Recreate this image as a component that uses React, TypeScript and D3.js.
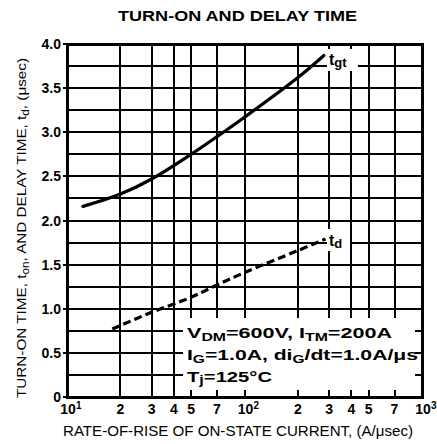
import React from 'react';
import * as d3 from 'd3';

const W = 437;
const H = 444;
const PLOT = { left: 67, right: 422, top: 44, bottom: 397 };

const xTickValues = [10, 20, 30, 40, 50, 70, 100, 200, 300, 400, 500, 700, 1000];
const xTickMain = ['10', '2', '3', '4', '5', '7', '10', '2', '3', '4', '5', '7', '10'];
const xTickSup = ['1', '', '', '', '', '', '2', '', '', '', '', '', '3'];
const yTickValues = [0, 0.5, 1, 1.5, 2, 2.5, 3, 3.5, 4];
const yTickLabels = ['0', '0.5', '1.0', '1.5', '2.0', '2.5', '3.0', '3.5', '4.0'];
const xGridValues = [20, 30, 40, 50, 70, 100, 200, 300, 400, 500, 700];
const yGridValues = [0.25, 0.5, 0.75, 1, 1.25, 1.5, 1.75, 2, 2.25, 2.5, 2.75, 3, 3.25, 3.5, 3.75];

// t_gt (solid)
const tgtX = [12.3, 20, 30, 50, 70, 100, 200, 280];
const tgtY = [2.16, 2.3, 2.47, 2.75, 2.95, 3.17, 3.62, 3.87];
// t_d (dashed)
const tdX = [18, 30, 50, 70, 100, 200, 286];
const tdY = [0.77, 0.96, 1.13, 1.27, 1.41, 1.66, 1.79];

// annotation box region (data coords)
const boxXStart = 45;
const boxYTop = 1.0;

const FONT = "'Liberation Sans', Arial, Helvetica, sans-serif";

export default function App() {
  const x = d3.scaleLog().domain([10, 1000]).range([PLOT.left, PLOT.right]);
  const y = d3.scaleLinear().domain([0, 4]).range([PLOT.bottom, PLOT.top]);

  const line = d3
    .line<[number, number]>()
    .x((d) => x(d[0]))
    .y((d) => y(d[1]))
    .curve(d3.curveCatmullRom.alpha(0.5));

  const tgtPath = line(tgtX.map((v, i) => [v, tgtY[i]] as [number, number])) || '';
  const tdPath = line(tdX.map((v, i) => [v, tdY[i]] as [number, number])) || '';

  const bx = Math.round(x(boxXStart));
  const by = Math.round(y(boxYTop));
  const gw = 2;
  const r = (v: number) => Math.round(v);

  const vLines: JSX.Element[] = [];
  xGridValues.forEach((v, i) => {
    const px = r(x(v));
    if (px > bx) {
      vLines.push(<line key={'v' + i} x1={px} x2={px} y1={PLOT.top} y2={by + 9} />);
      vLines.push(<line key={'vb' + i} x1={px} x2={px} y1={PLOT.bottom - 7} y2={PLOT.bottom} />);
    } else {
      vLines.push(<line key={'v' + i} x1={px} x2={px} y1={PLOT.top} y2={PLOT.bottom} />);
    }
  });

  const hLines: JSX.Element[] = [];
  yGridValues.forEach((v, i) => {
    const py = r(y(v));
    if (v < boxYTop) {
      hLines.push(<line key={'h' + i} x1={PLOT.left} x2={bx} y1={py} y2={py} />);
      hLines.push(<line key={'hr' + i} x1={PLOT.right - 7} x2={PLOT.right} y1={py} y2={py} />);
    } else {
      hLines.push(<line key={'h' + i} x1={PLOT.left} x2={PLOT.right} y1={py} y2={py} />);
    }
  });

  return (
    <svg width={W} height={H} style={{ position: 'absolute', left: 0, top: 0, background: '#fff' }} fontFamily={FONT}>
      <rect x={0} y={0} width={W} height={H} fill="#fff" />
      {/* title */}
      <text x={237.5} y={21} textAnchor="middle" fontWeight="bold" fontSize={15} textLength={239} lengthAdjust="spacingAndGlyphs">
        TURN-ON AND DELAY TIME
      </text>

      {/* grid */}
      <g stroke="#000" strokeWidth={gw} shapeRendering="crispEdges">
        {vLines}
        {hLines}
        {yTickValues.map((v, i) => (
          <line key={'yt' + i} x1={PLOT.left - 4} x2={PLOT.left} y1={r(y(v))} y2={r(y(v))} />
        ))}
      </g>

      {/* border */}
      <rect
        x={PLOT.left}
        y={PLOT.top}
        width={PLOT.right - PLOT.left}
        height={PLOT.bottom - PLOT.top}
        fill="none"
        stroke="#000"
        strokeWidth={3}
        shapeRendering="crispEdges"
      />

      {/* curves */}
      <path d={tgtPath} fill="none" stroke="#000" strokeWidth={3.2} strokeLinecap="round" />
      <path d={tdPath} fill="none" stroke="#000" strokeWidth={3.2} strokeDasharray="8 4" />

      {/* curve labels */}
      <rect x={327} y={49} width={31} height={22} fill="#fff" />
      <text x={329} y={65} fontSize={16} fontWeight="bold">
        t<tspan fontSize={13} dy={2}>gt</tspan>
      </text>
      <rect x={327} y={229} width={23} height={22} fill="#fff" />
      <text x={329} y={246} fontSize={16} fontWeight="bold">
        t<tspan fontSize={13} dy={2}>d</tspan>
      </text>

      {/* annotation */}
      <text x={187} y={338} fontSize={15} fontWeight="bold" textLength={205} lengthAdjust="spacingAndGlyphs">
        V<tspan fontSize={11} dy={3}>DM</tspan>
        <tspan dy={-3}>=600V,  I</tspan>
        <tspan fontSize={11} dy={3}>TM</tspan>
        <tspan dy={-3}>=200A</tspan>
      </text>
      <text x={187} y={360} fontSize={15} fontWeight="bold" textLength={231} lengthAdjust="spacingAndGlyphs">
        I<tspan fontSize={11} dy={3}>G</tspan>
        <tspan dy={-3}>=1.0A, di</tspan>
        <tspan fontSize={11} dy={3}>G</tspan>
        <tspan dy={-3}>/dt=1.0A/μs</tspan>
      </text>
      <text x={187} y={382} fontSize={15} fontWeight="bold" textLength={85} lengthAdjust="spacingAndGlyphs">
        T<tspan fontSize={12} dy={2}>j</tspan>
        <tspan dy={-2}>=125°C</tspan>
      </text>

      {/* y tick labels */}
      {yTickValues.map((v, i) => (
        <text key={'yl' + i} x={61} y={y(v) + 5} textAnchor="end" fontSize={14} fontWeight="bold">
          {yTickLabels[i]}
        </text>
      ))}

      {/* x tick labels */}
      {xTickValues.map((v, i) => (
        <g key={'xl' + i}>
          <text x={x(v) + (xTickSup[i] ? 1 : 0)} y={414} textAnchor="middle" fontSize={14} fontWeight="bold">
            {xTickMain[i]}
          </text>
          {xTickSup[i] && (
            <text x={x(v) + 9} y={409} fontSize={10} fontWeight="bold">
              {xTickSup[i]}
            </text>
          )}
        </g>
      ))}

      {/* axis titles */}
      <text x={238} y={436} textAnchor="middle" fontSize={14} textLength={350} lengthAdjust="spacingAndGlyphs">
        RATE-OF-RISE OF ON-STATE CURRENT, (A/μsec)
      </text>
      <text transform="translate(26,228) rotate(-90)" textAnchor="middle" fontSize={13} textLength={340} lengthAdjust="spacingAndGlyphs">
        TURN-ON TIME, t<tspan fontSize={10} dy={3}>on</tspan>
        <tspan dy={-3}>, AND DELAY TIME, t</tspan>
        <tspan fontSize={10} dy={3}>d</tspan>
        <tspan dy={-3}>, (μsec)</tspan>
      </text>
    </svg>
  );
}
